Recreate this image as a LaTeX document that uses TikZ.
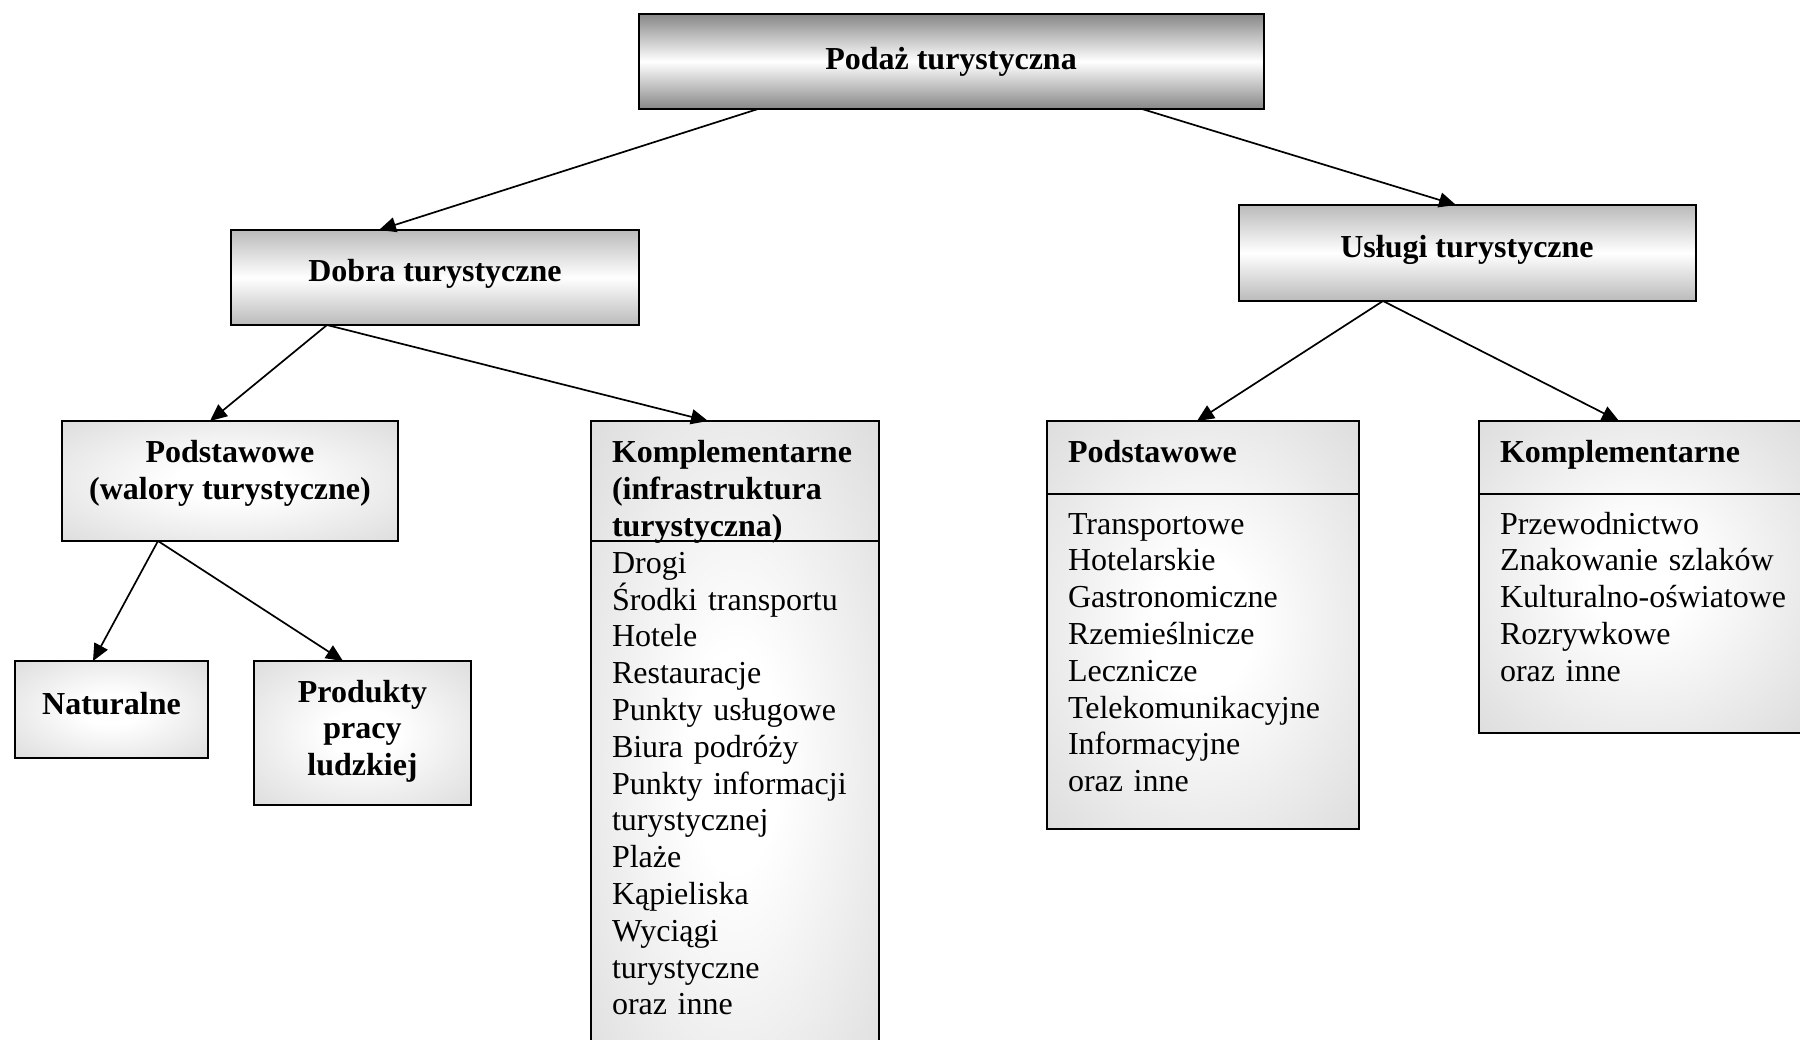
\documentclass[tikz,border=0pt]{standalone}
\usepackage{fontspec}
\setmainfont{Liberation Serif}
\usetikzlibrary{arrows.meta}

\definecolor{leafgray}{gray}{0.865}
\definecolor{edgedark}{gray}{0.53}
\definecolor{edgemid}{gray}{0.73}
% soft white glow in the middle of the lower boxes
\pgfdeclareradialshading{leafglow}{\pgfpoint{0bp}{0bp}}{%
  color(0bp)=(white); color(8bp)=(white); color(36bp)=(leafgray); color(50bp)=(leafgray)}

\begin{document}
\begin{tikzpicture}[x=1pt,y=-1pt,
  every node/.style={inner sep=0pt, outer sep=0pt},
  txt/.style={font=\fontsize{32}{36.8}\selectfont},
  btxt/.style={font=\fontsize{32}{36.8}\selectfont\bfseries},
  box/.style={draw, line width=2pt, rectangle},
  topbox/.style={box, top color=edgedark, bottom color=edgedark, middle color=white},
  midbox/.style={box, top color=edgemid, bottom color=edgemid, middle color=white},
  leafbox/.style={box, shade, shading=leafglow},
  link/.style={line width=1.7pt, -{Triangle[length=17pt,width=15pt]}},
]
\useasboundingbox (0,0) rectangle (1800,1040);
\fill[white] (0,0) rectangle (1800,1040);
\clip (0,0) rectangle (1800,1040);

% ---- boxes ----
\node[topbox, minimum width=625pt, minimum height=95pt] (podaz) at (951.5,61.5) {};
\node[midbox, minimum width=408pt, minimum height=95pt] (dobra) at (435,277.5) {};
\node[midbox, minimum width=457pt, minimum height=96pt] (uslugi) at (1467.5,253) {};
\node[leafbox, minimum width=336pt, minimum height=120pt] (walory) at (230,481) {};
\node[leafbox, minimum width=288pt, minimum height=680pt] (infra) at (735,761) {};
\node[leafbox, minimum width=312pt, minimum height=408pt] (podst) at (1203,625) {};
\node[leafbox, minimum width=323pt, minimum height=312pt] (kompl) at (1640.5,577) {};
\node[leafbox, minimum width=193pt, minimum height=97pt] (natur) at (111.5,709.5) {};
\node[leafbox, minimum width=217pt, minimum height=144pt] (prod) at (362.5,733) {};

% compartment dividers
\draw[line width=2pt] (infra.west |- 0,541) -- (infra.east |- 0,541);
\draw[line width=2pt] (podst.west |- 0,494) -- (podst.east |- 0,494);
\draw[line width=2pt] (kompl.west |- 0,494) -- (kompl.east |- 0,494);

% ---- texts ----
\node[btxt, anchor=base] (podaztxt) at (951,70) {Podaż turystyczna};
\node[btxt, anchor=base] (dobratxt) at (435,282) {Dobra turystyczne};
\node[btxt, anchor=base] (uslugitxt) at (1467,258) {Usługi turystyczne};
\node[btxt, anchor=north, align=center] (walorytxt) at (230,437)
  {\rule{0pt}{26pt}Podstawowe\\(walory turystyczne)};
\node[btxt, anchor=base] (naturtxt) at (111.5,714) {Naturalne};
\node[btxt, anchor=north, align=center] (prodtxt) at (362.5,676)
  {\rule{0pt}{26pt}Produkty\\pracy\\ludzkiej};

\node[txt, anchor=north west, align=left, text width=280pt] (infratxt) at (612,437)
  {\rule{0pt}{26pt}\textbf{Komplementarne}\\\textbf{(infrastruktura}\\\textbf{turystyczna)}\\
   Drogi\\Środki transportu\\Hotele\\Restauracje\\Punkty usługowe\\Biura podróży\\
   Punkty informacji\\turystycznej\\Plaże\\Kąpieliska\\Wyciągi\\turystyczne\\oraz inne};

\node[btxt, anchor=base west] (podsthead) at (1068,463) {Podstawowe};
\node[txt, anchor=north west, align=left, text width=280pt] (podsttxt) at (1068,508)
  {\rule{0pt}{26pt}Transportowe\\Hotelarskie\\Gastronomiczne\\Rzemieślnicze\\Lecznicze\\
   Telekomunikacyjne\\Informacyjne\\oraz inne};

\node[btxt, anchor=base west] (komplhead) at (1500,463) {Komplementarne};
\node[txt, anchor=north west, align=left, text width=300pt] (kompltxt) at (1500,508)
  {\rule{0pt}{26pt}Przewodnictwo\\Znakowanie szlaków\\Kulturalno-oświatowe\\Rozrywkowe\\oraz inne};

% ---- connectors ----
\draw[link] ([xshift=119pt]podaz.south west) -- ([xshift=148pt]dobra.north west);
\draw[link] ([xshift=503pt]podaz.south west) -- ([xshift=217pt]uslugi.north west);
\draw[link] ([xshift=96pt]dobra.south west) -- ([xshift=148pt]walory.north west);
\draw[link] ([xshift=96pt]dobra.south west) -- ([xshift=117pt]infra.north west);
\draw[link] ([xshift=144pt]uslugi.south west) -- ([xshift=150pt]podst.north west);
\draw[link] ([xshift=144pt]uslugi.south west) -- ([xshift=140pt]kompl.north west);
\draw[link] ([xshift=96pt]walory.south west) -- ([xshift=78pt]natur.north west);
\draw[link] ([xshift=96pt]walory.south west) -- ([xshift=89pt]prod.north west);
\end{tikzpicture}
\end{document}
